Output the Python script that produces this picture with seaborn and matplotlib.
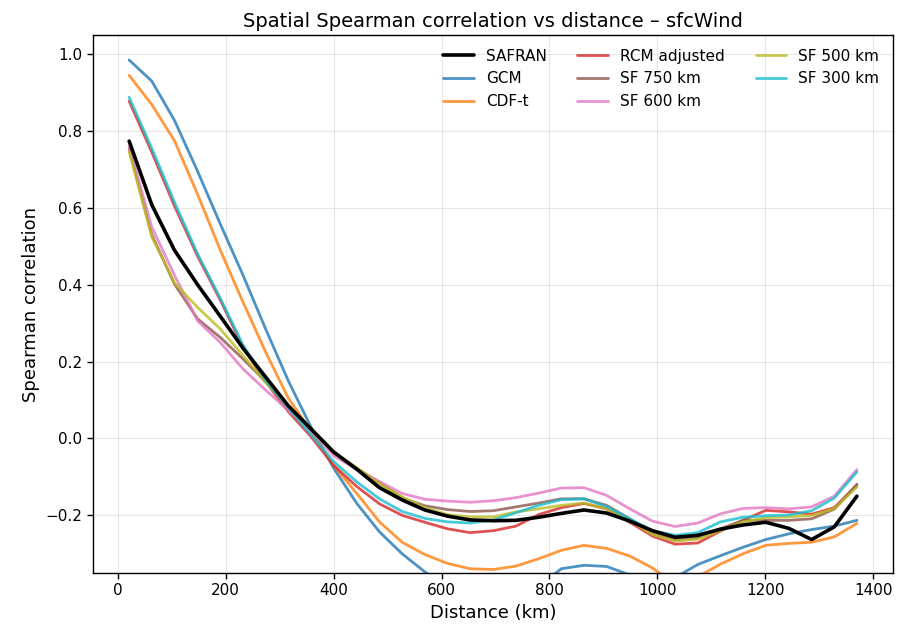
import numpy as np
import pandas as pd
import matplotlib
matplotlib.use("Agg")
import matplotlib.pyplot as plt
import seaborn as sns

# distance bins (km)
distance_km = [21, 63, 105, 148, 190, 232, 274, 316, 358, 400, 443, 485, 527, 569, 611, 653, 696,
               738, 780, 822, 864, 906, 949, 991, 1033, 1075, 1117, 1159, 1201, 1244, 1286, 1328, 1370]

safran = [0.774, 0.608, 0.49, 0.40, 0.318, 0.235, 0.16, 0.085, 0.025, -0.035, -0.08, -0.128, -0.16,
          -0.186, -0.202, -0.212, -0.214, -0.213, -0.205, -0.195, -0.186, -0.194, -0.215, -0.24,
          -0.257, -0.252, -0.236, -0.225, -0.218, -0.234, -0.263, -0.23, -0.15]
gcm = [0.985, 0.93, 0.828, 0.695, 0.558, 0.425, 0.285, 0.15, 0.03, -0.077, -0.169, -0.243, -0.30,
       -0.347, -0.385, -0.41, -0.415, -0.40, -0.385, -0.339, -0.33, -0.333, -0.355, -0.385,
       -0.362, -0.328, -0.305, -0.283, -0.263, -0.248, -0.237, -0.228, -0.213]
cdft = [0.945, 0.869, 0.775, 0.635, 0.49, 0.355, 0.225, 0.105, 0.02, -0.07, -0.143, -0.217, -0.27,
        -0.302, -0.325, -0.339, -0.341, -0.332, -0.313, -0.291, -0.278, -0.286, -0.306, -0.337,
        -0.38, -0.36, -0.327, -0.30, -0.278, -0.273, -0.27, -0.256, -0.221]
rcm_adj = [0.878, 0.745, 0.605, 0.474, 0.36, 0.238, 0.148, 0.07, 0.005, -0.07, -0.125, -0.17, -0.20,
           -0.218, -0.235, -0.245, -0.24, -0.228, -0.198, -0.18, -0.169, -0.183, -0.218, -0.254,
           -0.275, -0.272, -0.241, -0.213, -0.187, -0.191, -0.197, -0.18, -0.122]
sf750 = [0.755, 0.53, 0.402, 0.311, 0.263, 0.207, 0.148, 0.085, 0.025, -0.037, -0.078, -0.115, -0.155,
         -0.175, -0.185, -0.19, -0.188, -0.178, -0.168, -0.157, -0.157, -0.174, -0.209, -0.248,
         -0.264, -0.259, -0.235, -0.213, -0.213, -0.213, -0.209, -0.184, -0.119]
sf600 = [0.76, 0.55, 0.425, 0.306, 0.25, 0.181, 0.126, 0.073, 0.02, -0.045, -0.08, -0.112, -0.143,
         -0.158, -0.163, -0.166, -0.162, -0.154, -0.142, -0.129, -0.128, -0.148, -0.183, -0.215,
         -0.229, -0.22, -0.196, -0.182, -0.18, -0.183, -0.178, -0.15, -0.081]
sf500 = [0.746, 0.525, 0.405, 0.341, 0.285, 0.216, 0.146, 0.086, 0.026, -0.035, -0.076, -0.118, -0.152,
         -0.18, -0.198, -0.204, -0.204, -0.191, -0.183, -0.174, -0.168, -0.183, -0.213, -0.25,
         -0.267, -0.262, -0.239, -0.217, -0.206, -0.204, -0.20, -0.183, -0.126]
sf300 = [0.888, 0.755, 0.615, 0.48, 0.365, 0.243, 0.152, 0.08, 0.01, -0.06, -0.113, -0.157, -0.19,
         -0.208, -0.217, -0.22, -0.212, -0.193, -0.174, -0.159, -0.157, -0.177, -0.209, -0.24,
         -0.252, -0.245, -0.217, -0.205, -0.201, -0.199, -0.188, -0.155, -0.087]

series = [
    ("GCM", gcm, "tab:blue"),
    ("CDF-t", cdft, "tab:orange"),
    ("RCM adjusted", rcm_adj, "tab:red"),
    ("SF 750 km", sf750, "tab:brown"),
    ("SF 600 km", sf600, "tab:pink"),
    ("SF 500 km", sf500, "tab:olive"),
    ("SF 300 km", sf300, "tab:cyan"),
]

# 风格: 白底, 黑色边框和文字
sns.set_style("ticks", {"axes.edgecolor": "black", "xtick.color": "black", "ytick.color": "black",
                        "text.color": "black", "axes.labelcolor": "black"})
plt.rcParams['font.family'] = ['DejaVu Sans']

fig, ax = plt.subplots(figsize=(9.03, 6.37), dpi=100)
fig.subplots_adjust(left=0.103, right=0.989, bottom=0.1005, top=0.945)

sns.lineplot(x=distance_km, y=safran, color="black", lw=2.6, label="SAFRAN", ax=ax, zorder=5)
for name, vals, col in series:
    sns.lineplot(x=distance_km, y=vals, color=col, lw=2, alpha=0.8, label=name, ax=ax)

ax.set_ylim(-0.35, 1.05)
ax.set_xlim(-46, 1437)
ax.grid(True, color="#b0b0b0", alpha=0.3, lw=0.8)
for sp in ax.spines.values():
    sp.set_linewidth(1.0)
ax.set_title("Spatial Spearman correlation vs distance – sfcWind", fontsize=14)
ax.set_xlabel("Distance (km)", fontsize=13)
ax.set_ylabel("Spearman correlation", fontsize=13)
ax.tick_params(labelsize=11, width=1.0, length=4)

handles, labels = ax.get_legend_handles_labels()
ax.legend(handles, labels, ncol=3, loc="upper right", frameon=False, fontsize=11)

fig.savefig("out.png", dpi=100)
